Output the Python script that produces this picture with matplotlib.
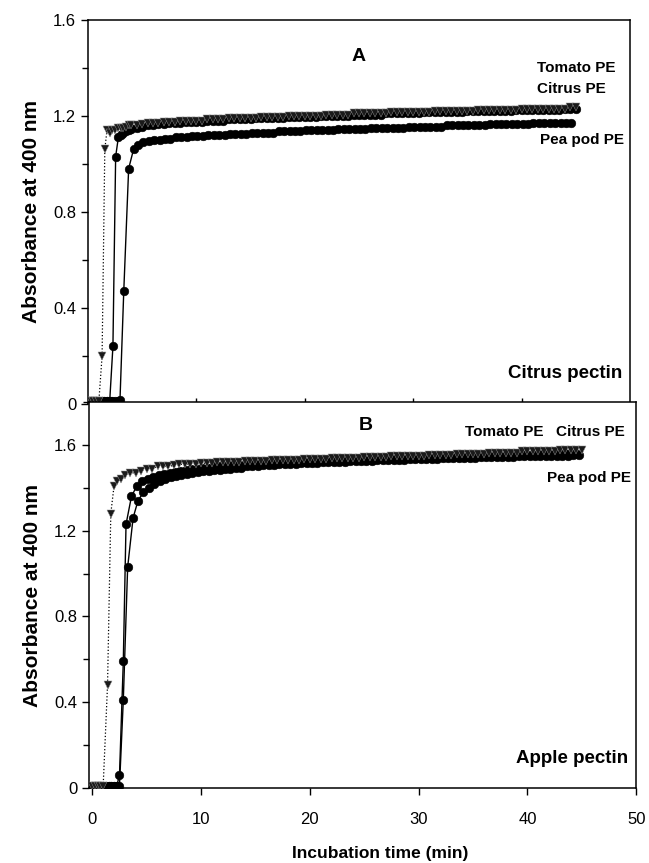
import numpy as np
import matplotlib
matplotlib.use("Agg")
import matplotlib.pyplot as plt
from matplotlib.ticker import MultipleLocator

plt.rc('font', family=['Liberation Sans', 'DejaVu Sans'], size=12)
NARROW = ['Liberation Sans Narrow', 'Liberation Sans', 'DejaVu Sans']

# ---- panel A : citrus pectin ----
a_tomato_t = [0, 0.25, 0.5, 0.75, 1.0, 1.3, 1.55, 1.75, 2.0, 2.25, 2.5, 2.75,
              3.0, 3.25, 3.5, 3.75, 4.0, 4.5]
a_tomato_y = [0.01, 0.01, 0.01, 0.01, 0.01, 0.20, 1.06, 1.14, 1.13, 1.14, 1.14, 1.15,
              1.15, 1.15, 1.155, 1.16, 1.16, 1.16]
a_tomato_tail = [1.165, 1.17, 1.17, 1.17, 1.175, 1.175, 1.175, 1.18, 1.18, 1.18,
                 1.18, 1.18, 1.185, 1.185, 1.185, 1.185, 1.19, 1.19, 1.19, 1.19,
                 1.19, 1.19, 1.195, 1.195, 1.195, 1.195, 1.195, 1.20, 1.20, 1.20,
                 1.20, 1.20, 1.20, 1.20, 1.205, 1.205, 1.205, 1.205, 1.205, 1.21,
                 1.21, 1.21, 1.21, 1.21, 1.21, 1.21, 1.215, 1.215, 1.215, 1.215,
                 1.215, 1.215, 1.215, 1.215, 1.22, 1.22, 1.22, 1.22, 1.22, 1.22,
                 1.22, 1.22, 1.225, 1.225, 1.225, 1.225, 1.225, 1.225, 1.225, 1.225,
                 1.23, 1.23, 1.23, 1.23, 1.23, 1.23, 1.23, 1.23, 1.23, 1.235, 1.235]

a_citrus_t = [0, 0.25, 0.5, 0.75, 1.0, 1.25, 1.5, 1.75, 2.0, 2.3, 2.55, 2.8,
              3.0, 3.25, 3.5, 3.75, 4.0, 4.5]
a_citrus_y = [0.01, 0.01, 0.01, 0.01, 0.01, 0.01, 0.01, 0.01, 0.01, 0.24, 1.03, 1.11,
              1.12, 1.13, 1.135, 1.14, 1.145, 1.15]
a_citrus_tail = [1.155, 1.16, 1.16, 1.165, 1.165, 1.17, 1.17, 1.17, 1.175, 1.175,
                 1.175, 1.175, 1.18, 1.18, 1.18, 1.18, 1.185, 1.185, 1.185, 1.185,
                 1.185, 1.19, 1.19, 1.19, 1.19, 1.19, 1.19, 1.195, 1.195, 1.195,
                 1.195, 1.195, 1.195, 1.20, 1.20, 1.20, 1.20, 1.20, 1.20, 1.205,
                 1.205, 1.205, 1.205, 1.205, 1.205, 1.21, 1.21, 1.21, 1.21, 1.21,
                 1.21, 1.21, 1.215, 1.215, 1.215, 1.215, 1.215, 1.215, 1.215, 1.215,
                 1.22, 1.22, 1.22, 1.22, 1.22, 1.22, 1.22, 1.22, 1.22, 1.225,
                 1.225, 1.225, 1.225, 1.225, 1.225, 1.225, 1.225, 1.225, 1.23, 1.23, 1.23]

a_pea_t = [0, 0.25, 0.5, 0.75, 1.0, 1.25, 1.5, 1.75, 2.0, 2.25, 2.5, 2.75,
           2.95, 3.3, 3.75, 4.2, 4.6]
a_pea_y = [0.01, 0.01, 0.01, 0.01, 0.01, 0.01, 0.01, 0.01, 0.01, 0.01, 0.01, 0.01,
           0.015, 0.47, 0.98, 1.06, 1.08]
a_pea_tail = [1.09, 1.095, 1.10, 1.10, 1.105, 1.105, 1.11, 1.11, 1.11, 1.115,
              1.115, 1.115, 1.12, 1.12, 1.12, 1.12, 1.125, 1.125, 1.125, 1.125,
              1.13, 1.13, 1.13, 1.13, 1.13, 1.135, 1.135, 1.135, 1.135, 1.135,
              1.14, 1.14, 1.14, 1.14, 1.14, 1.14, 1.145, 1.145, 1.145, 1.145,
              1.145, 1.145, 1.15, 1.15, 1.15, 1.15, 1.15, 1.15, 1.15, 1.155,
              1.155, 1.155, 1.155, 1.155, 1.155, 1.155, 1.16, 1.16, 1.16, 1.16,
              1.16, 1.16, 1.16, 1.16, 1.165, 1.165, 1.165, 1.165, 1.165, 1.165,
              1.165, 1.165, 1.17, 1.17, 1.17, 1.17, 1.17, 1.17, 1.17, 1.17]

# ---- panel B : apple pectin ----
b_tomato_t = [0, 0.25, 0.5, 0.75, 1.0, 1.4, 1.7, 2.0, 2.3, 2.6, 3.0, 3.5, 4.0, 4.5]
b_tomato_y = [0.01, 0.01, 0.01, 0.01, 0.01, 0.48, 1.28, 1.41, 1.43, 1.44, 1.46, 1.47,
              1.47, 1.48]
b_tomato_tail = [1.49, 1.49, 1.50, 1.50, 1.50, 1.505, 1.51, 1.51, 1.51, 1.51,
                 1.515, 1.515, 1.515, 1.52, 1.52, 1.52, 1.52, 1.52, 1.525, 1.525,
                 1.525, 1.525, 1.525, 1.53, 1.53, 1.53, 1.53, 1.53, 1.53, 1.535,
                 1.535, 1.535, 1.535, 1.535, 1.54, 1.54, 1.54, 1.54, 1.54, 1.54,
                 1.545, 1.545, 1.545, 1.545, 1.545, 1.55, 1.55, 1.55, 1.55, 1.55,
                 1.55, 1.55, 1.555, 1.555, 1.555, 1.555, 1.555, 1.56, 1.56, 1.56,
                 1.56, 1.56, 1.56, 1.565, 1.565, 1.565, 1.565, 1.565, 1.565, 1.57,
                 1.57, 1.57, 1.57, 1.57, 1.57, 1.57, 1.575, 1.575, 1.575, 1.575, 1.575]

b_citrus_t = [0, 0.25, 0.5, 0.75, 1.0, 1.25, 1.5, 1.75, 2.0, 2.25, 2.5, 2.85,
              3.1, 3.6, 4.1, 4.6]
b_citrus_y = [0.01, 0.01, 0.01, 0.01, 0.01, 0.01, 0.01, 0.01, 0.01, 0.01, 0.06, 0.59,
              1.23, 1.36, 1.41, 1.43]
b_citrus_tail = [1.44, 1.45, 1.46, 1.465, 1.47, 1.475, 1.48, 1.485, 1.49, 1.49,
                 1.495, 1.495, 1.50, 1.50, 1.50, 1.505, 1.505, 1.505, 1.51, 1.51,
                 1.51, 1.51, 1.515, 1.515, 1.515, 1.515, 1.52, 1.52, 1.52, 1.52,
                 1.52, 1.525, 1.525, 1.525, 1.525, 1.525, 1.53, 1.53, 1.53, 1.53,
                 1.53, 1.53, 1.535, 1.535, 1.535, 1.535, 1.535, 1.535, 1.54, 1.54,
                 1.54, 1.54, 1.54, 1.54, 1.545, 1.545, 1.545, 1.545, 1.545, 1.545,
                 1.55, 1.55, 1.55, 1.55, 1.55, 1.55, 1.555, 1.555, 1.555, 1.555,
                 1.555, 1.555, 1.56, 1.56, 1.56, 1.56, 1.56, 1.56, 1.56, 1.56]

b_pea_t = [0, 0.25, 0.5, 0.75, 1.0, 1.25, 1.5, 1.75, 2.0, 2.25, 2.5, 2.85,
           3.25, 3.75, 4.2, 4.7]
b_pea_y = [0.01, 0.01, 0.01, 0.01, 0.01, 0.01, 0.01, 0.01, 0.01, 0.01, 0.01, 0.41,
           1.03, 1.26, 1.34, 1.38]
b_pea_tail = [1.40, 1.42, 1.43, 1.44, 1.45, 1.455, 1.46, 1.465, 1.47, 1.475,
              1.48, 1.48, 1.485, 1.485, 1.49, 1.49, 1.495, 1.495, 1.50, 1.50,
              1.50, 1.505, 1.505, 1.505, 1.51, 1.51, 1.51, 1.51, 1.515, 1.515,
              1.515, 1.515, 1.52, 1.52, 1.52, 1.52, 1.52, 1.525, 1.525, 1.525,
              1.525, 1.525, 1.53, 1.53, 1.53, 1.53, 1.53, 1.53, 1.535, 1.535,
              1.535, 1.535, 1.535, 1.535, 1.54, 1.54, 1.54, 1.54, 1.54, 1.54,
              1.54, 1.545, 1.545, 1.545, 1.545, 1.545, 1.545, 1.545, 1.55, 1.55,
              1.55, 1.55, 1.55, 1.55, 1.55, 1.55, 1.55, 1.55, 1.555, 1.555]

TAIL_STEP = 0.5


def series(t_head, y_head, tail):
    t_tail = t_head[-1] + TAIL_STEP * np.arange(1, len(tail) + 1)
    return np.concatenate([t_head, t_tail]), np.concatenate([y_head, tail])


def draw(ax, tomato, citrus, pea):
    for t, y in (citrus, pea):
        ax.plot(t, y, '-', color='black', lw=1.0, marker='o', ms=6.2,
                mfc='black', mec='black', mew=0.4, zorder=3)
    t, y = tomato
    ax.plot(t, y, ':', color='black', lw=0.9, zorder=4)
    ax.plot(t, y, 'v', ms=5.5, mfc='#1a1a1a', mec='#8a8a8a', mew=0.35, zorder=4)


fig = plt.figure(figsize=(6.49, 8.63), dpi=100)
ax1 = fig.add_axes([0.1356, 0.532, 0.835, 0.445])
ax2 = fig.add_axes([0.1372, 0.087, 0.843, 0.447])

draw(ax1, series(a_tomato_t, a_tomato_y, a_tomato_tail),
     series(a_citrus_t, a_citrus_y, a_citrus_tail),
     series(a_pea_t, a_pea_y, a_pea_tail))
draw(ax2, series(b_tomato_t, b_tomato_y, b_tomato_tail),
     series(b_citrus_t, b_citrus_y, b_citrus_tail),
     series(b_pea_t, b_pea_y, b_pea_tail))

for ax in (ax1, ax2):
    for s in ax.spines.values():
        s.set_linewidth(1.1)
    ax.yaxis.set_major_locator(MultipleLocator(0.4))
    ax.yaxis.set_minor_locator(MultipleLocator(0.2))
    ax.tick_params(axis='y', which='major', direction='out', length=5, width=1, labelsize=12)
    ax.tick_params(axis='y', which='minor', direction='out', length=4, width=1)
    ax.yaxis.set_major_formatter(plt.FuncFormatter(lambda v, p: '0' if abs(v) < 1e-9 else f'{v:.1f}'))
    ax.set_ylabel('Absorbance at 400 nm', fontsize=15, fontweight='bold', labelpad=9)

ax1.set_xlim(0, 50)
ax1.set_ylim(0, 1.6)
ax1.set_xticks([10, 20, 30, 40])
ax1.tick_params(axis='x', direction='in', length=4, width=1, labelbottom=False)

ax2.set_xlim(-0.3, 50)
ax2.set_ylim(0, 1.8)
ax2.set_xticks([0, 10, 20, 30, 40, 50])
ax2.tick_params(axis='x', direction='out', length=5, width=1, labelsize=12, pad=12)
ax2.set_xlabel('Incubation time (min)', fontsize=12.5, fontweight='bold', family=NARROW)
ax2.xaxis.set_label_coords(0.532, -0.15)

# labels panel A
ax1.text(0.5, 0.905, 'A', transform=ax1.transAxes, fontsize=14, fontweight='bold', ha='center', va='center')
ax1.text(41.4, 1.40, 'Tomato PE', fontsize=11, fontweight='bold', family=NARROW, va='center')
ax1.text(41.4, 1.31, 'Citrus PE', fontsize=11, fontweight='bold', family=NARROW, va='center')
ax1.text(41.7, 1.10, 'Pea pod PE', fontsize=11, fontweight='bold', family=NARROW, va='center')
ax1.text(0.985, 0.08, 'Citrus pectin', transform=ax1.transAxes, fontsize=13.5, fontweight='bold',
         ha='right', va='center')

# labels panel B
ax2.text(0.505, 0.94, 'B', transform=ax2.transAxes, fontsize=14, fontweight='bold', ha='center', va='center')
ax2.text(34.3, 1.66, 'Tomato PE', fontsize=11, fontweight='bold', family=NARROW, va='center')
ax2.text(42.6, 1.66, 'Citrus PE', fontsize=11, fontweight='bold', family=NARROW, va='center')
ax2.text(41.8, 1.445, 'Pea pod PE', fontsize=11, fontweight='bold', family=NARROW, va='center')
ax2.text(0.985, 0.075, 'Apple pectin', transform=ax2.transAxes, fontsize=13.5, fontweight='bold',
         ha='right', va='center')

fig.savefig('out.png', dpi=100)
